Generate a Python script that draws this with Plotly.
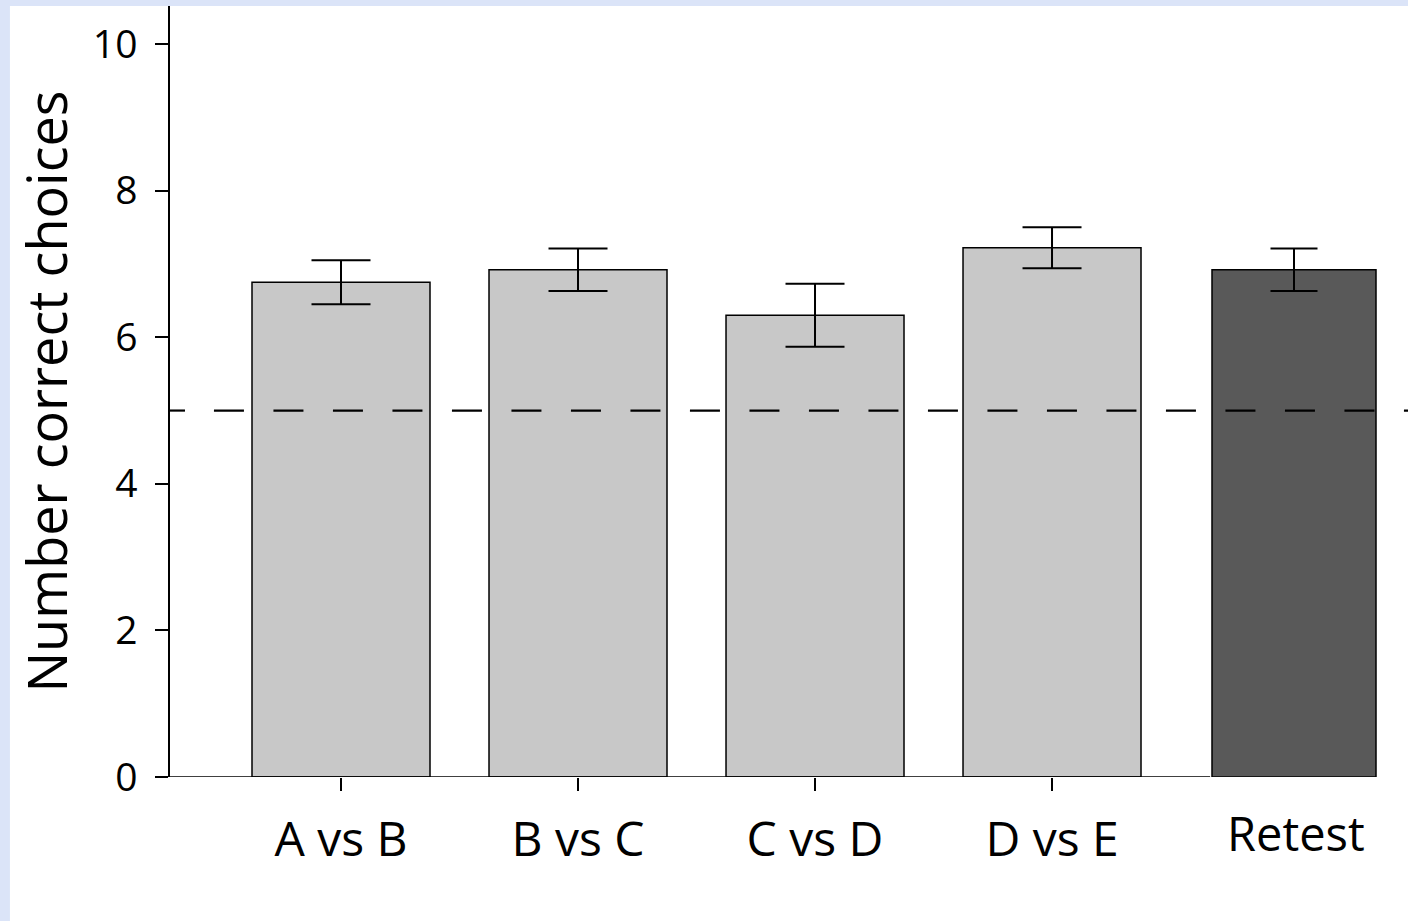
import plotly.graph_objects as go

categories = ["A vs B", "B vs C", "C vs D", "D vs E"]
means = [6.75, 6.92, 6.30, 7.22]
errors = [0.30, 0.29, 0.43, 0.28]
retest_label = "Retest"
retest_mean = 6.92
retest_error = 0.29
chance_level = 5
y_ticks = [0, 2, 4, 6, 8, 10]

FONT = "Open Sans"
all_cats = categories + [retest_label]

fig = go.Figure()
fig.add_trace(go.Bar(
    x=categories, y=means, width=0.751,
    marker=dict(color="#c8c8c8", line=dict(color="black", width=1.5)),
    error_y=dict(type="data", array=errors, color="black", thickness=2, width=29.5),
    showlegend=False,
))
fig.add_trace(go.Bar(
    x=[retest_label], y=[retest_mean], width=0.692, offset=-0.325,
    marker=dict(color="#595959", line=dict(color="black", width=1.5)),
    error_y=dict(type="data", array=[retest_error], color="black", thickness=2, width=23.5),
    showlegend=False,
))

# white panel on light-blue page
fig.add_shape(type="rect", xref="paper", yref="paper", x0=-0.1293, x1=1.0, y0=-0.19, y1=1.0,
              fillcolor="white", line=dict(width=0), layer="below")
# chance line (partial first dash, then regular dashes)
fig.add_shape(type="line", xref="paper", yref="y", x0=0, x1=0.0121, y0=chance_level, y1=chance_level,
              line=dict(color="black", width=2.2))
fig.add_shape(type="line", xref="paper", yref="y", x0=0.0355, x1=1, y0=chance_level, y1=chance_level,
              line=dict(color="black", width=2.2, dash="30px,29.5px"))
# x axis baseline (ends before retest bar)
fig.add_shape(type="line", xref="x", yref="y", x0=-0.7215, x1=3.667, y0=0, y1=0,
              line=dict(color="black", width=1.5))

fig.add_annotation(x=4.03, xref="x", y=-0.072, yref="paper", text=retest_label, showarrow=False,
                   yanchor="middle", xanchor="center", font=dict(family=FONT, size=47, color="black"))

fig.update_layout(
    width=1408, height=921,
    margin=dict(l=170, r=0, t=6, b=144),
    paper_bgcolor="#dbe4f8", plot_bgcolor="white",
    barmode="overlay",
    font=dict(family=FONT, color="black"),
    hovermode=False,
)
fig.update_xaxes(
    type="category", categoryorder="array", categoryarray=all_cats,
    range=[-0.7215, 4.502],
    tickmode="array", tickvals=categories, ticktext=categories,
    ticks="outside", ticklen=13, tickwidth=1.5, tickcolor="black",
    tickfont=dict(family=FONT, size=48), ticklabelstandoff=7,
    showline=False, showgrid=False, zeroline=False,
)
fig.update_yaxes(
    range=[0, 10.52], tickvals=y_ticks,
    ticks="outside", ticklen=13, tickwidth=1.5, tickcolor="black",
    tickfont=dict(family=FONT, size=39), ticklabelstandoff=10,
    showline=True, linecolor="black", linewidth=1.5,
    showgrid=False, zeroline=False,
    title=dict(text="Number correct choices", font=dict(family=FONT, size=54), standoff=8),
)

fig.write_html("out.html", config={"displayModeBar": False},
               post_script="document.body.style.margin='0';document.body.style.overflow='hidden';")
